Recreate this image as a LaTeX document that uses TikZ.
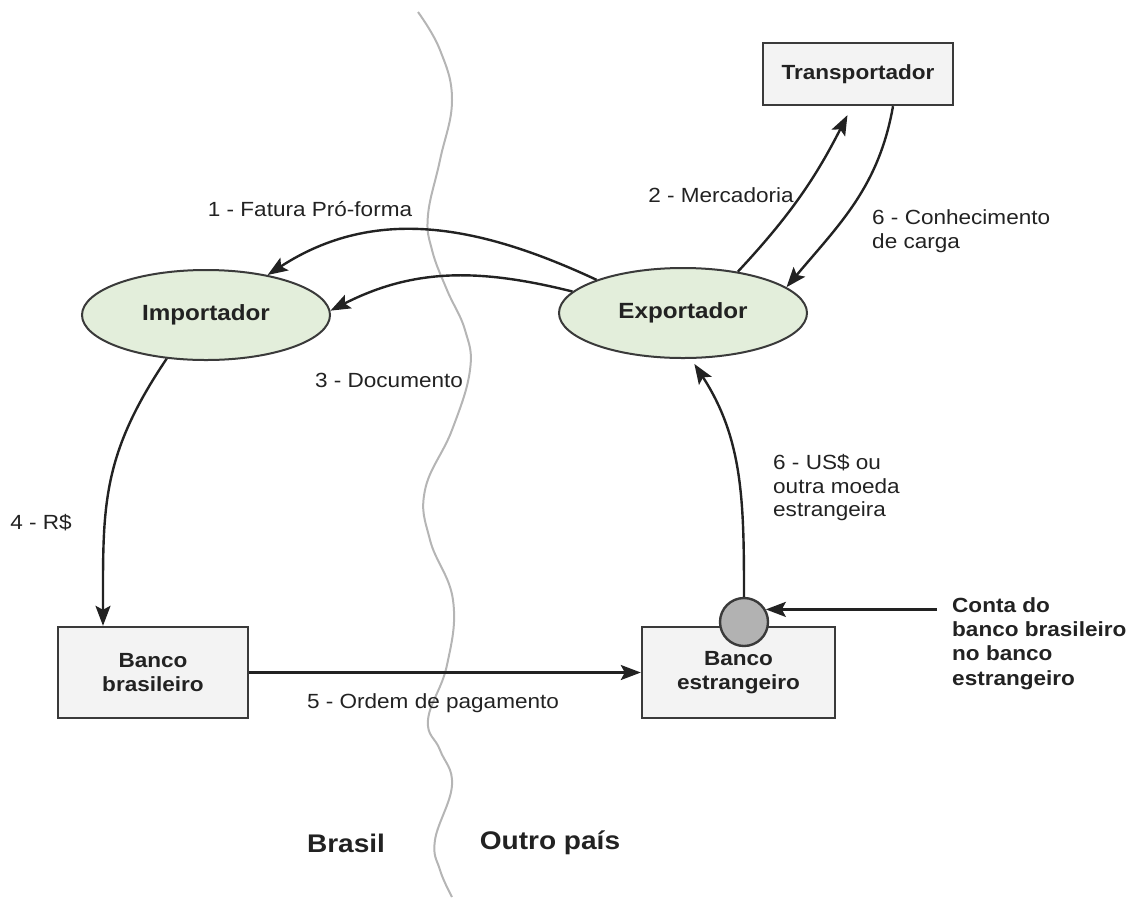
\documentclass[tikz,border=0pt]{standalone}
\usepackage{fontspec}
\setmainfont[FakeStretch=1.1]{Liberation Sans}
\usetikzlibrary{shapes.geometric, arrows.meta}
\definecolor{ovalfill}{HTML}{E3EEDB}
\definecolor{boxfill}{HTML}{F3F3F3}
\definecolor{edge}{HTML}{3A3A3A}
\definecolor{ink}{HTML}{222222}
\definecolor{border}{HTML}{B5B5B5}

\begin{document}
\begin{tikzpicture}[x=1pt, y=-1pt,
  every node/.style={font=\fontsize{20.5}{23.5}\selectfont, text=ink},
  box/.style={draw=edge, line width=2.4pt, fill=boxfill, align=center, inner sep=0pt, font=\fontsize{20.5}{23.5}\selectfont\bfseries},
  oval/.style={ellipse, draw=edge, line width=2pt, fill=ovalfill, minimum width=248pt, minimum height=90pt, inner sep=0pt, font=\fontsize{22}{24}\selectfont\bfseries},
  lbl/.style={align=left, inner sep=0pt},
  arr/.style={-{Stealth[length=20pt, width=15pt, inset=4pt]}, line width=2.4pt, draw=ink},
  country/.style={font=\fontsize{25.5}{28}\selectfont\bfseries}]
  \useasboundingbox (0,0) rectangle (1132,898);
  \draw[border, line width=2pt] plot[smooth, tension=0.7] coordinates {(418,12) (440,50) (452,100) (440,160) (428,215) (432,250) (447,290) (465,330) (470,370) (452,430) (425,490) (430,540) (453,600) (447,665) (428,720) (440,750) (452,785) (435,840) (440,870) (452,897)};

  \node[box, minimum width=190pt, minimum height=62pt] (trans) at (858,74) {Transportador};
  \node[oval] (imp) at (206,315) {Importador};
  \node[oval] (exp) at (683,313) {Exportador};
  \node[box, minimum width=190pt, minimum height=91pt] (bb) at (153,672.5) {Banco\\brasileiro};
  \node[box, minimum width=193pt, minimum height=91pt] (be) at (738.5,672.5) {Banco\\estrangeiro};
  \node[circle, draw=edge, line width=2.4pt, fill=gray!60, minimum size=48pt, inner sep=0pt] (acct) at (744,622) {};

  \node[lbl] (lab1) at (310,209) {1 - Fatura Pró-forma};
  \node[lbl] (lab2) at (721,195) {2 - Mercadoria};
  \node[lbl, anchor=west] (lab6a) at (872,231) {6 - Conhecimento\\de carga};
  \node[lbl] (lab3) at (389,380) {3 - Documento};
  \node[lbl] (lab4) at (41,523) {4 - R\$};
  \node[lbl, anchor=west] (lab6b) at (773,488) {6 - US\$ ou\\outra moeda\\estrangeira};
  \node[lbl] (lab5) at (433,703) {5 - Ordem de pagamento};
  \node[lbl, anchor=west, font=\fontsize{20.5}{24.3}\selectfont\bfseries] (conta) at (952,643.5) {Conta do\\banco brasileiro\\no banco\\estrangeiro};
  \node[country] (br) at (346,843) {Brasil};
  \node[country] (op) at (550,843) {Outro país};

  \draw[arr] (exp.159) to[out=155, in=33] (imp.33);
  \draw[arr] (exp.169) to[out=166, in=27] (imp.2);
  \draw[arr, shorten >=10pt] (exp.37) to[out=47, in=-117] ([xshift=-6pt]trans.south);
  \draw[arr] ([xshift=35pt]trans.south) to[out=-100, in=50] (exp.14);
  \draw[arr] (imp.-132) to[out=-124, in=90, looseness=1.1] ([xshift=-50pt]bb.north);
  \draw[arr] (bb.east) -- (be.west);
  \draw[arr, shorten >=6pt] (acct.north) to[out=90, in=-57] (exp.-80);
  \draw[arr] ([xshift=-15pt]conta.west |- acct.30) -- (acct.30);
\end{tikzpicture}
\end{document}
